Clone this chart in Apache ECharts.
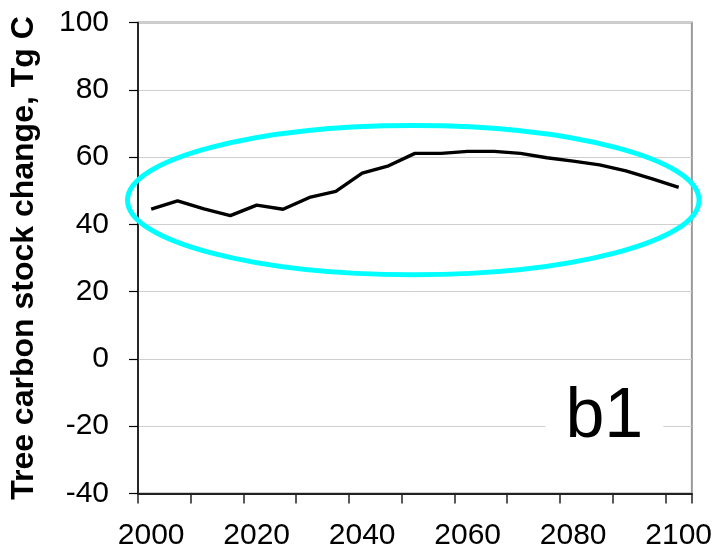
<!DOCTYPE html>
<html>
<head>
<meta charset="utf-8">
<script src="https://cdn.jsdelivr.net/npm/echarts@6/dist/echarts.min.js"></script>
<style>
  html, body { margin: 0; padding: 0; background: #fff; }
  #chart { width: 715px; height: 555px; }
</style>
</head>
<body>
<div id="chart"></div>
<script>
// Simulation years, one value every 5 years
const years = ['2000','2005','2010','2015','2020','2025','2030','2035','2040','2045','2050',
               '2055','2060','2065','2070','2075','2080','2085','2090','2095','2100'];

// Tree carbon stock change (Tg C)
const stockChange = [44.5, 47.0, 44.6, 42.6, 45.7, 44.5, 48.0, 49.8, 55.2, 57.4, 61.1,
                     61.1, 61.7, 61.7, 61.1, 59.8, 58.8, 57.7, 55.9, 53.5, 51.0];

// Value axis range and step
const yMin = -40, yMax = 100, yStep = 20;

const panelLabel = 'b1';
const yTitle = 'Tree carbon stock change, Tg C';

const FONT = 'Arial, "Liberation Sans", sans-serif';

const chart = echarts.init(document.getElementById('chart'), null, { renderer: 'canvas' });

const grid = { left: 137, right: 22, top: 22.5, bottom: 61.5 };

chart.setOption({
  backgroundColor: '#ffffff',
  animation: false,
  grid: Object.assign({ show: true, borderColor: '#9a9a9a', borderWidth: 2, backgroundColor: 'transparent' }, grid),
  xAxis: {
    type: 'category',
    data: years,
    boundaryGap: true,
    axisLine: { show: true, onZero: false, lineStyle: { color: '#222', width: 2 } },
    axisTick: { show: true, interval: 1, length: 10, inside: false, lineStyle: { color: '#222', width: 1.5 } },
    axisLabel: { interval: 3, margin: 27, color: '#000', fontFamily: FONT, fontSize: 30 },
    splitLine: { show: false }
  },
  yAxis: {
    type: 'value',
    min: yMin,
    max: yMax,
    interval: yStep,
    name: yTitle,
    nameLocation: 'middle',
    nameGap: 98,
    nameRotate: 90,
    nameTextStyle: { color: '#000', fontFamily: FONT, fontWeight: 'bold', fontSize: 32 },
    axisLine: { show: true, lineStyle: { color: '#000', width: 1.5 } },
    axisTick: { show: true, length: 9, inside: false, lineStyle: { color: '#000', width: 1.2 } },
    axisLabel: { margin: 29, color: '#000', fontFamily: FONT, fontSize: 30 },
    splitLine: { show: true, lineStyle: { color: '#cfcfcf', width: 1 } }
  },
  series: [{
    type: 'line',
    data: stockChange,
    symbol: 'none',
    lineStyle: { color: '#000', width: 3.4 },
    z: 3
  }]
});

// Highlight ellipse and panel tag, placed relative to the plot area
const rect = chart.getModel().getComponent('grid', 0).coordinateSystem.getRect();
const yTop = chart.convertToPixel({ yAxisIndex: 0 }, 69.4);
const yBot = chart.convertToPixel({ yAxisIndex: 0 }, 25.0);
const yTag = chart.convertToPixel({ yAxisIndex: 0 }, -17.5);

chart.setOption({
  graphic: [
    {
      type: 'ellipse',
      shape: {
        cx: rect.x + rect.width * 0.497,
        cy: (yTop + yBot) / 2,
        rx: rect.width * 0.516,
        ry: (yBot - yTop) / 2
      },
      style: { fill: 'none', stroke: '#00ffff', lineWidth: 5 },
      z: 10
    },
    {
      type: 'text',
      x: rect.x + rect.width * 0.842,
      y: yTag,
      style: {
        text: panelLabel,
        font: '70px ' + FONT,
        fill: '#000',
        align: 'center',
        verticalAlign: 'middle',
        backgroundColor: '#fff',
        padding: [0, 20, 0, 20]
      },
      z: 5
    }
  ]
});
</script>
</body>
</html>
